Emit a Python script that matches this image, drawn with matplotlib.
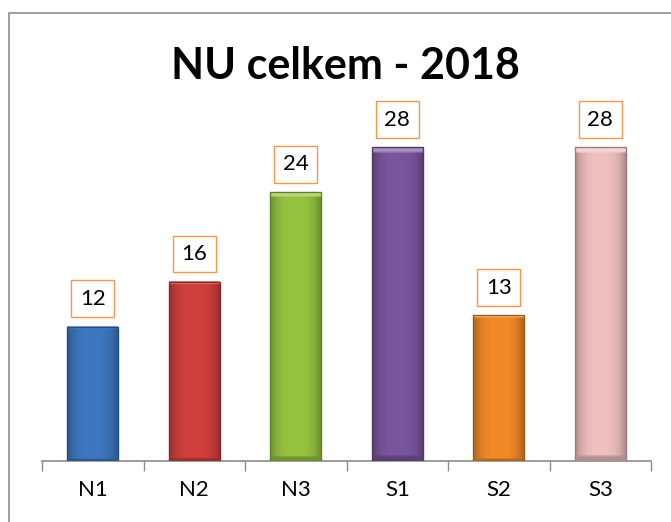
import numpy as np
import matplotlib.pyplot as plt
from matplotlib.patches import Rectangle
from matplotlib.colors import to_rgb

plt.rcParams['font.family'] = ['Lato', 'DejaVu Sans']

# Data
categories = ['N1', 'N2', 'N3', 'S1', 'S2', 'S3']
values = [12, 16, 24, 28, 13, 28]
colors = ['#3E78C0', '#D0403D', '#96C43F', '#7A569E', '#F28A28', '#F0C0C0']

fig = plt.figure(figsize=(6.71, 5.22), dpi=100)

# cadre gris autour du graphique
fig.patches.append(Rectangle((9 / 671, -0.1), 1.2, 1 - 13 / 522 + 0.1,
                             transform=fig.transFigure, fill=False,
                             edgecolor='#8c8c8c', linewidth=1.2))

ax = fig.add_axes([42 / 671, 1 - 461 / 522, (651 - 42) / 671, 0.6437])
x = np.arange(len(categories))
w = 0.5

bars = ax.bar(x, values, width=w, color=colors, zorder=2)

# ombrage simple pour imiter l'effet biseauté
for b, c in zip(bars, colors):
    rgb = np.array(to_rgb(c))
    n = 120
    t = np.linspace(0, 1, n)
    shade = 1.0 - 0.28 * np.abs(2 * t - 1) ** 3
    img = np.zeros((n, n, 3))
    for i in range(n):
        img[i, :, :] = np.clip(rgb[None, :] * shade[:, None], 0, 1)
    img[:2, :, :] = np.clip(rgb + (1 - rgb) * 0.35, 0, 1)
    img[-2:, :, :] = rgb * 0.75
    x0 = b.get_x()
    ax.imshow(img, extent=(x0, x0 + b.get_width(), 0, b.get_height()),
              aspect='auto', zorder=3, interpolation='bilinear')
    ax.add_patch(Rectangle((x0, 0), b.get_width(), b.get_height(), fill=False,
                           edgecolor=rgb * 0.65, linewidth=1.0, zorder=4))

# étiquettes de valeur dans des cadres orange
for xi, v in zip(x, values):
    ax.annotate(str(v), (xi, v), xytext=(0, 20), textcoords='offset points',
                ha='center', va='center', fontsize=16, zorder=5,
                bbox=dict(boxstyle='square,pad=0.38', fc='white',
                          ec='#F79646', lw=1.0))

ax.set_xlim(-0.5, len(categories) - 0.5)
ax.set_ylim(0, 30)
ax.set_xticks(x)
ax.set_xticklabels(categories, fontsize=16)
ax.set_xticks(np.arange(-0.5, len(categories)), minor=True)
ax.tick_params(axis='x', which='major', length=0, pad=14)
ax.tick_params(axis='x', which='minor', length=7.5, color='#8c8c8c', width=1)
ax.set_yticks([])
for s in ['top', 'right', 'left']:
    ax.spines[s].set_visible(False)
ax.spines['bottom'].set_color('#8c8c8c')
ax.spines['bottom'].set_linewidth(1.2)

fig.text(0.515, 1 - 66 / 522, 'NU celkem - 2018', ha='center', va='center',
         fontsize=31, fontweight='bold')

fig.savefig('out.png', dpi=100)
